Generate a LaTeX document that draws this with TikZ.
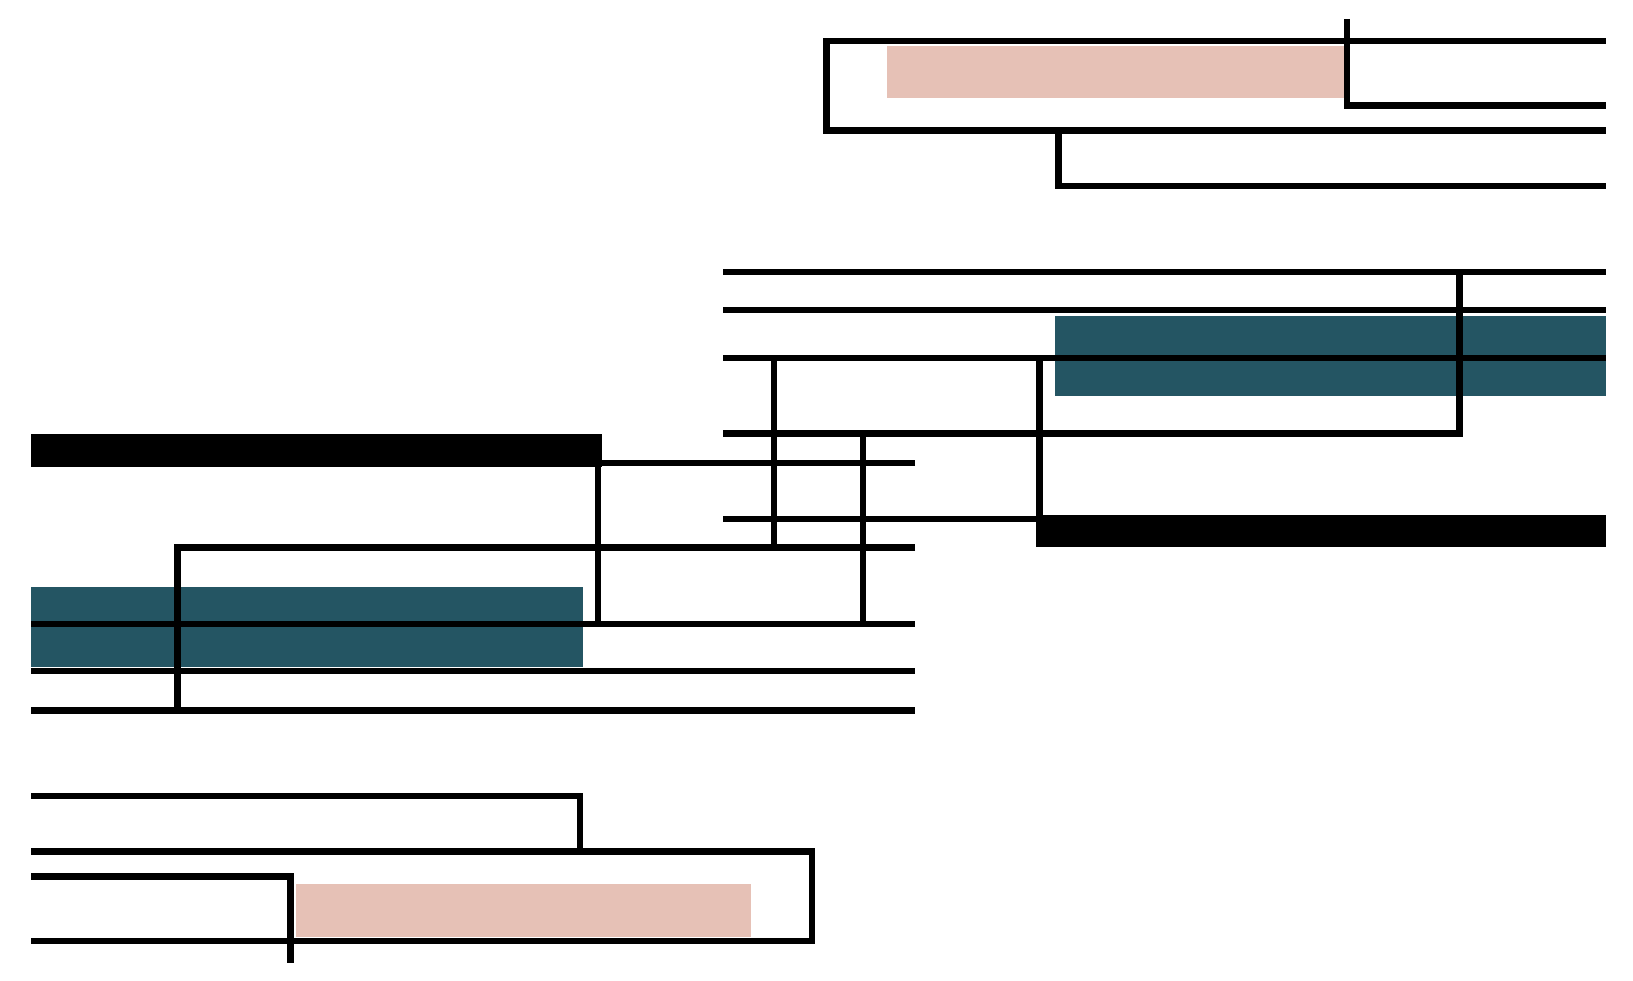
\documentclass[tikz,border=0pt]{standalone}
\definecolor{teal1}{HTML}{245563}
\definecolor{pink1}{HTML}{E6C1B6}
\begin{document}
\begin{tikzpicture}[x=0.5mm,y=-0.5mm,ln/.style={line width=8.5pt,line join=miter}]
\useasboundingbox (0,0) rectangle (1563,938);
\fill[white] (0,0) rectangle (1563,938);
% fills
\fill[pink1] (849,44) rectangle (1287,94);
\fill[teal1] (1010,302) rectangle (1537,379);
\fill[black] (992,493) rectangle (1537,524);
\fill[black] (30,415) rectangle (576,447);
\fill[teal1] (30,562) rectangle (558,638);
\fill[pink1] (283,846) rectangle (719,897);
% top block
\draw[ln] (1537,39) -- (791,39) -- (791,125) -- (1537,125);
\draw[ln] (1289,18) -- (1289,101) -- (1537,101);
\draw[ln] (1013,125) -- (1013,178) -- (1537,178);
% middle right
\draw[ln] (692,260) -- (1537,260);
\draw[ln] (692,297) -- (1537,297);
\draw[ln] (692,343) -- (1537,343);
\draw[ln] (1397,260) -- (1397,415) -- (692,415);
\draw[ln] (741,343) -- (741,521);
\draw[ln] (995,343) -- (995,497) -- (692,497);
\draw[ln] (826,415) -- (826,597);
% left middle
\draw[ln] (876,443) -- (572,443) -- (572,597);
\draw[ln] (876,524) -- (170,524) -- (170,680);
\draw[ln] (30,597) -- (876,597);
\draw[ln] (30,642) -- (876,642);
\draw[ln] (30,680) -- (876,680);
% bottom
\draw[ln] (30,762) -- (555,762) -- (555,815);
\draw[ln] (30,815) -- (777,815) -- (777,901) -- (30,901);
\draw[ln] (30,839) -- (278,839) -- (278,922);
\end{tikzpicture}
\end{document}
